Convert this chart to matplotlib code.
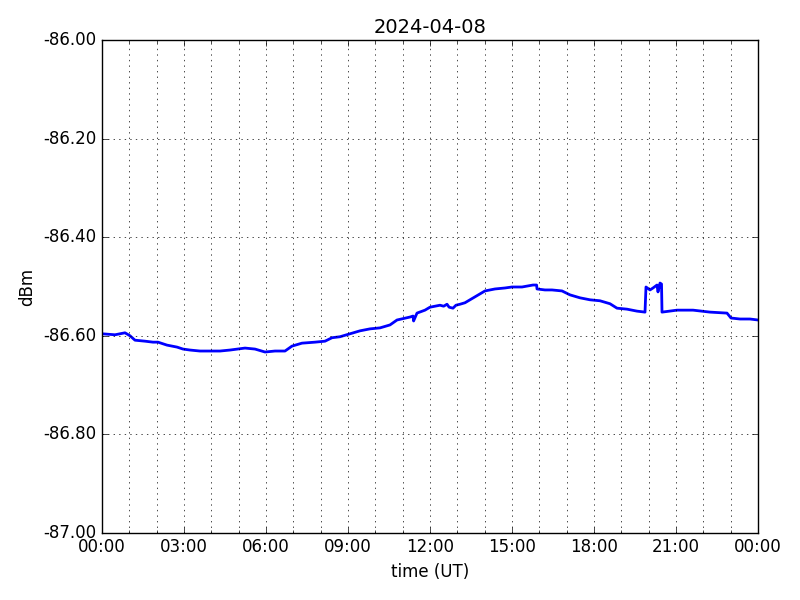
import matplotlib
matplotlib.use("Agg")
import matplotlib.pyplot as plt
import matplotlib.dates as mdates
from matplotlib.ticker import FormatStrFormatter
import datetime as dt

plt.style.use("classic")

title = "2024-04-08"
hours = [0.0, 0.476, 0.841, 1.024, 1.207, 1.573, 1.866, 2.049, 2.378, 2.744,
         2.963, 3.22, 3.585, 3.951, 4.317, 4.683, 5.232, 5.598, 5.963, 6.329,
         6.695, 6.951, 7.317, 7.793, 8.159, 8.415, 8.707, 9.073, 9.439, 9.805,
         10.171, 10.537, 10.793, 11.268, 11.38, 11.40, 11.524, 11.817, 12.0, 12.366,
         12.50, 12.622, 12.70, 12.841, 12.95, 13.098, 13.28, 13.646, 14.012, 14.378,
         14.744, 15.0, 15.366, 15.768, 15.90, 15.915, 16.207, 16.463, 16.829, 17.122,
         17.488, 17.854, 18.22, 18.585, 18.841, 19.207, 19.573, 19.866, 19.902, 20.049,
         20.159, 20.305, 20.341, 20.415, 20.47, 20.488, 21.037, 21.622, 22.244, 22.866,
         23.012, 23.341, 23.707, 24.0]
dbm = [-86.596, -86.598, -86.594, -86.600, -86.609, -86.611, -86.613, -86.613, -86.619, -86.623,
       -86.627, -86.629, -86.631, -86.631, -86.631, -86.629, -86.625, -86.627, -86.633, -86.631,
       -86.631, -86.621, -86.615, -86.613, -86.611, -86.604, -86.602, -86.596, -86.590, -86.586,
       -86.584, -86.578, -86.568, -86.562, -86.560, -86.570, -86.554, -86.548, -86.542, -86.538,
       -86.540, -86.536, -86.542, -86.544, -86.538, -86.536, -86.533, -86.521, -86.509, -86.505,
       -86.503, -86.501, -86.501, -86.497, -86.497, -86.505, -86.507, -86.507, -86.509, -86.517,
       -86.523, -86.527, -86.529, -86.535, -86.544, -86.546, -86.550, -86.552, -86.501, -86.507,
       -86.503, -86.497, -86.511, -86.493, -86.495, -86.552, -86.548, -86.548, -86.552, -86.554,
       -86.564, -86.566, -86.566, -86.568]

ylim = (-87.0, -86.0)
yticks = [-87.0, -86.8, -86.6, -86.4, -86.2, -86.0]

base = dt.datetime(2024, 4, 8)
times = [base + dt.timedelta(hours=h) for h in hours]

fig = plt.figure(figsize=(8, 6), dpi=100)
fig.patch.set_facecolor("white")
ax = fig.add_subplot(111)
fig.subplots_adjust(left=0.1275, right=0.9475, top=0.933, bottom=0.112)

ax.plot(times, dbm, color="b", linewidth=2.0)

ax.set_xlim(base, base + dt.timedelta(days=1))
ax.set_ylim(*ylim)
ax.set_yticks(yticks)
ax.yaxis.set_major_formatter(FormatStrFormatter("%.2f"))
ax.xaxis.set_major_locator(mdates.HourLocator(byhour=range(0, 24, 3)))
ax.xaxis.set_minor_locator(mdates.HourLocator())
ax.xaxis.set_major_formatter(mdates.DateFormatter("%H:%M"))

ax.grid(True, which="major", linestyle=":", color="k", linewidth=0.5)
ax.xaxis.grid(True, which="minor", linestyle=":", color="k", linewidth=0.5)

ax.set_title(title, fontsize=14)
ax.set_xlabel("time (UT)", fontsize=12)
ax.set_ylabel("dBm", fontsize=12)
ax.tick_params(labelsize=12)

fig.savefig("out.png", dpi=100, facecolor="white")
